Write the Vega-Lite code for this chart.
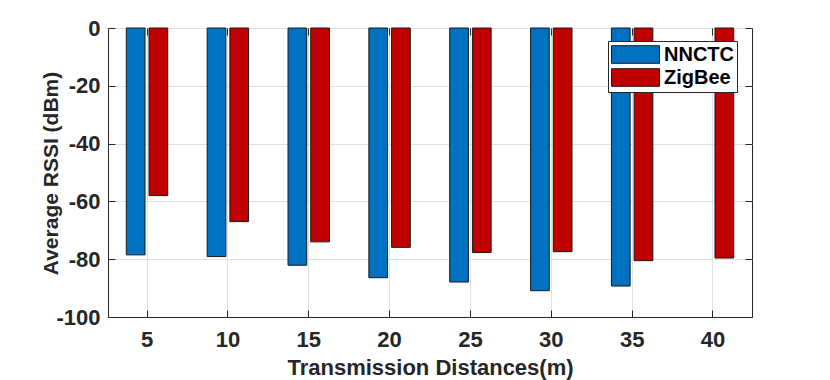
{
  "$schema": "https://vega.github.io/schema/vega-lite/v6.json",
  "width": 644,
  "height": 289,
  "autosize": {"type": "none"},
  "padding": {"left": 108, "top": 28, "right": 78, "bottom": 63},
  "background": "white",
  "config": {
    "view": {"stroke": "#262626", "strokeWidth": 1},
    "font": "Liberation Sans"
  },
  "data": {
    "values": [
      {"distance": 5, "system": "NNCTC", "rssi": -78.5},
      {"distance": 5, "system": "ZigBee", "rssi": -58},
      {"distance": 10, "system": "NNCTC", "rssi": -79.1},
      {"distance": 10, "system": "ZigBee", "rssi": -67},
      {"distance": 15, "system": "NNCTC", "rssi": -82.1},
      {"distance": 15, "system": "ZigBee", "rssi": -74},
      {"distance": 20, "system": "NNCTC", "rssi": -86.4},
      {"distance": 20, "system": "ZigBee", "rssi": -75.9},
      {"distance": 25, "system": "NNCTC", "rssi": -87.9},
      {"distance": 25, "system": "ZigBee", "rssi": -77.7},
      {"distance": 30, "system": "NNCTC", "rssi": -90.9},
      {"distance": 30, "system": "ZigBee", "rssi": -77.4},
      {"distance": 35, "system": "NNCTC", "rssi": -89.3},
      {"distance": 35, "system": "ZigBee", "rssi": -80.5},
      {"distance": 40, "system": "ZigBee", "rssi": -79.6}
    ]
  },
  "layer": [
    {
      "mark": {"type": "bar", "stroke": "#1a1a1a", "strokeWidth": 1},
      "encoding": {
        "x": {
          "field": "distance",
          "type": "ordinal",
          "scale": {
            "domain": [5, 10, 15, 20, 25, 30, 35, 40],
            "paddingInner": 0.4876,
            "paddingOuter": 0.2265
          },
          "axis": {
            "title": "Transmission Distances(m)",
            "titleFont": "Liberation Sans",
            "titleFontSize": 22,
            "titleFontWeight": "bold",
            "titleColor": "#262626",
            "titleBaseline": "alphabetic",
            "titleY": 57,
            "labelAngle": 0,
            "labelFont": "Liberation Sans",
            "labelFontSize": 22,
            "labelFontWeight": "bold",
            "labelColor": "#262626",
            "labelPadding": 19,
            "tickSize": -7,
            "tickColor": "#262626",
            "domainColor": "#262626",
            "grid": true,
            "gridColor": "#e0e0e0",
            "bandPosition": 0.5
          }
        },
        "xOffset": {
          "field": "system",
          "type": "nominal",
          "scale": {"domain": ["NNCTC", "ZigBee"], "paddingInner": 0.176, "paddingOuter": 0}
        },
        "y": {
          "field": "rssi",
          "type": "quantitative",
          "scale": {"domain": [-100, 0], "nice": false},
          "axis": {
            "values": [-100, -80, -60, -40, -20, 0],
            "labelExpr": "replace(datum.label, '−', '-')",
            "title": "Average RSSI (dBm)",
            "titleFont": "Liberation Sans",
            "titleFontSize": 21,
            "titleFontWeight": "bold",
            "titleColor": "#262626",
            "titleAngle": -90,
            "titleBaseline": "alphabetic",
            "titleAlign": "center",
            "titleX": -51,
            "titleY": 145,
            "labelFont": "Liberation Sans",
            "labelFontSize": 22,
            "labelFontWeight": "bold",
            "labelColor": "#262626",
            "labelPadding": 15,
            "tickSize": -7,
            "tickColor": "#262626",
            "domainColor": "#262626",
            "grid": true,
            "gridColor": "#e0e0e0"
          }
        },
        "color": {
          "field": "system",
          "type": "nominal",
          "scale": {"domain": ["NNCTC", "ZigBee"], "range": ["#0070C0", "#C00000"]},
          "legend": {
            "orient": "none",
            "legendX": 500,
            "legendY": 13,
            "title": null,
            "fillColor": "white",
            "strokeColor": "#262626",
            "padding": 3,
            "symbolType": "M-1,-0.88H3.8V0.88H-1Z",
            "symbolSize": 400,
            "symbolStrokeColor": "#1a1a1a",
            "symbolStrokeWidth": 1,
            "symbolOpacity": 1,
            "labelFont": "Liberation Sans",
            "labelFontSize": 20,
            "labelFontWeight": "bold",
            "labelColor": "black",
            "labelOffset": 32,
            "rowPadding": 0
          }
        }
      }
    },
    {
      "mark": {"type": "bar", "opacity": 0},
      "encoding": {
        "x": {
          "field": "distance",
          "type": "ordinal",
          "axis": {
            "orient": "top",
            "labels": false,
            "title": null,
            "tickSize": -7,
            "tickColor": "#262626",
            "domain": false,
            "grid": false,
            "bandPosition": 0.5
          }
        },
        "y": {
          "field": "rssi",
          "type": "quantitative",
          "axis": {
            "orient": "right",
            "values": [-100, -80, -60, -40, -20, 0],
            "labels": false,
            "title": null,
            "tickSize": -7,
            "tickColor": "#262626",
            "domain": false,
            "grid": false
          }
        }
      }
    }
  ],
  "resolve": {"axis": {"x": "independent", "y": "independent"}}
}
